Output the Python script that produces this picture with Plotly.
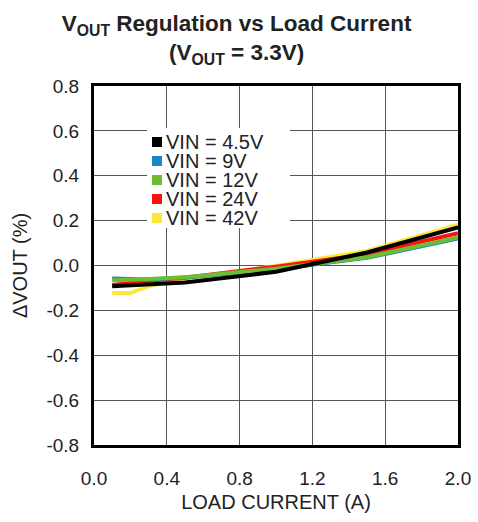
import plotly.graph_objects as go

# Load current (A) sample points
load_current = [0.1, 0.2, 0.3, 0.5, 1.0, 1.5, 2.0]

# Output voltage deviation (%) for each input voltage
dv_vin_4p5 = [-0.092, -0.088, -0.084, -0.076, -0.028, 0.058, 0.170]
dv_vin_9 = [-0.058, -0.062, -0.062, -0.054, -0.017, 0.034, 0.120]
dv_vin_12 = [-0.066, -0.064, -0.060, -0.052, -0.014, 0.037, 0.125]
dv_vin_24 = [-0.087, -0.078, -0.068, -0.055, -0.005, 0.050, 0.144]
dv_vin_42 = [-0.123, -0.123, -0.092, -0.058, -0.002, 0.065, 0.182]

series_names = ["VIN = 4.5V", "VIN = 9V", "VIN = 12V", "VIN = 24V", "VIN = 42V"]
series_values = [dv_vin_4p5, dv_vin_9, dv_vin_12, dv_vin_24, dv_vin_42]
series_colors = ["#000000", "#1688c9", "#6cbd2f", "#ff1010", "#fde83a"]

x_tick_vals = [0.0, 0.4, 0.8, 1.2, 1.6, 2.0]
x_tick_text = ["0.0", "0.4", "0.8", "1.2", "1.6", "2.0"]
y_tick_vals = [-0.8, -0.6, -0.4, -0.2, 0.0, 0.2, 0.4, 0.6, 0.8]
y_tick_text = ["-0.8", "-0.6", "-0.4", "-0.2", "0.0", "0.2", "0.4", "0.6", "0.8"]

W, H = 478, 522
M_L, M_R, M_T, M_B = 94, 20, 86, 77
FONT = "Liberation Sans, Arial, Helvetica, sans-serif"
TEXT_COLOR = "#222222"


def px_to_paper(px, py):
    """Convert page pixel position to paper coordinates of the plot area."""
    pw = W - M_L - M_R
    ph = H - M_T - M_B
    return (px - M_L) / pw, (H - M_B - py) / ph


fig = go.Figure()

# Draw order: yellow underneath, black on top
for idx in [4, 3, 1, 2, 0]:
    fig.add_trace(go.Scatter(
        x=load_current,
        y=series_values[idx],
        mode="lines",
        name=series_names[idx],
        line=dict(color=series_colors[idx], width=4),
        showlegend=False,
        hoverinfo="skip",
    ))

# Legend: white panel with square swatches and labels
shapes = []
annotations = []
x0, y0 = px_to_paper(147, 128)
x1, y1 = px_to_paper(290, 228)
shapes.append(dict(type="rect", xref="paper", yref="paper",
                   x0=x0, y0=y1, x1=x1, y1=y0,
                   fillcolor="white", line=dict(width=0), layer="above"))
row_y0, row_step = 142, 19
for i, (name, color) in enumerate(zip(series_names, series_colors)):
    cy = row_y0 + i * row_step
    sx0, sy0 = px_to_paper(152, cy - 5)
    sx1, sy1 = px_to_paper(162, cy + 5)
    shapes.append(dict(type="rect", xref="paper", yref="paper",
                       x0=sx0, y0=sy1, x1=sx1, y1=sy0,
                       fillcolor=color, line=dict(width=0), layer="above"))
    tx, ty = px_to_paper(164, cy)
    annotations.append(dict(xref="paper", yref="paper", x=tx, y=ty,
                            xanchor="left", yanchor="middle", showarrow=False,
                            text=name, font=dict(family=FONT, size=20, color=TEXT_COLOR)))

fig.update_layout(
    width=W, height=H,
    margin=dict(l=M_L, r=M_R, t=M_T, b=M_B, autoexpand=False),
    paper_bgcolor="white",
    plot_bgcolor="white",
    font=dict(family=FONT, size=19, color=TEXT_COLOR),
    title=dict(
        text="<b>V<sub>OUT</sub> Regulation vs Load Current<br>(V<sub>OUT</sub> = 3.3V)</b>",
        x=0.495, xref="container", xanchor="center",
        y=1 - 31 / H, yref="container", yanchor="middle",
        font=dict(family=FONT, size=22.5, color=TEXT_COLOR),
        automargin=False,
    ),
    shapes=shapes,
    annotations=annotations,
    showlegend=False,
)

fig.update_xaxes(
    range=[0, 2.0], tickvals=x_tick_vals, ticktext=x_tick_text,
    showgrid=True, gridcolor="#555555", gridwidth=1, zeroline=False,
    showline=True, linecolor="black", linewidth=3, mirror=True,
    ticks="outside", ticklen=14, tickcolor="rgba(0,0,0,0)",
    tickfont=dict(size=19, color=TEXT_COLOR), automargin=False,
    title=dict(text="LOAD CURRENT (A)", standoff=8,
               font=dict(size=20, color=TEXT_COLOR)),
)
fig.update_yaxes(
    range=[-0.8, 0.8], tickvals=y_tick_vals, ticktext=y_tick_text,
    showgrid=True, gridcolor="#555555", gridwidth=1, zeroline=False,
    showline=True, linecolor="black", linewidth=3, mirror=True,
    ticks="outside", ticklen=8, tickcolor="rgba(0,0,0,0)",
    tickfont=dict(size=19, color=TEXT_COLOR), automargin=False,
    title=dict(text="ΔVOUT (%)", standoff=14,
               font=dict(size=20, color=TEXT_COLOR)),
)

fig.write_html("out.html")
